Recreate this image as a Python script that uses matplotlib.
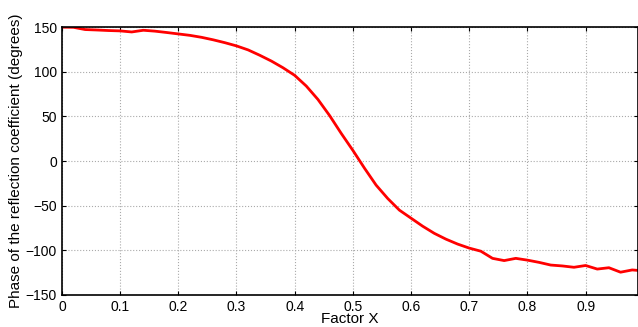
import numpy as np
import matplotlib
matplotlib.use("Agg")
import matplotlib.pyplot as plt

factor_x = [0.00, 0.02, 0.04, 0.06, 0.08, 0.10, 0.12, 0.14, 0.16, 0.18,
            0.20, 0.22, 0.24, 0.26, 0.28, 0.30, 0.32, 0.34, 0.36, 0.38,
            0.40, 0.42, 0.44, 0.46, 0.48, 0.50, 0.52, 0.54, 0.56, 0.58,
            0.60, 0.62, 0.64, 0.66, 0.68, 0.70, 0.72, 0.74, 0.76, 0.78,
            0.80, 0.82, 0.84, 0.86, 0.88, 0.90, 0.92, 0.94, 0.96, 0.98, 0.99]
phase_deg = [150, 149.8, 147.3, 146.8, 146.2, 145.8, 144.6, 146.5, 145.5, 144,
             142.4, 140.8, 138.6, 135.8, 132.6, 129, 124.5, 118.5, 112, 104.5,
             96, 84, 69, 51, 31, 12, -8, -27, -42, -55,
             -64, -73, -81, -87.5, -93, -97.5, -101, -109, -111.5, -109,
             -111, -113.5, -116.5, -117.5, -119, -117, -121, -119.5, -124.5, -122, -122.5]

x_ticks = [0, 0.1, 0.2, 0.3, 0.4, 0.5, 0.6, 0.7, 0.8, 0.9]
x_ticklabels = ["0", "0.1", "0.2", "0.3", "0.4", "0.5", "0.6", "0.7", "0.8", "0.9"]
y_ticks = [-150, -100, -50, 0, 50, 100, 150]

plt.rcParams["font.family"] = ["Liberation Sans", "DejaVu Sans"]

fig = plt.figure(figsize=(6.38, 3.27), dpi=100)
ax = fig.add_axes([0.097, 0.098, 0.903, 0.819])

ax.plot(factor_x, phase_deg, color="red", linewidth=2)

ax.set_xlim(0, 0.99)
ax.set_ylim(-150, 150)
ax.set_xticks(x_ticks)
ax.set_xticklabels(x_ticklabels)
ax.set_yticks(y_ticks)
ax.grid(True, linestyle=":", color="#aaaaaa", linewidth=0.8)
ax.tick_params(direction="in", top=True, right=True, labelsize=10, length=3)
for s in ax.spines.values():
    s.set_linewidth(1.2)

ax.set_xlabel("Factor X", fontsize=11, labelpad=-1)
ax.set_ylabel("Phase of the reflection coefficient (degrees)", fontsize=11, labelpad=2)

fig.savefig("out.png", dpi=100)
